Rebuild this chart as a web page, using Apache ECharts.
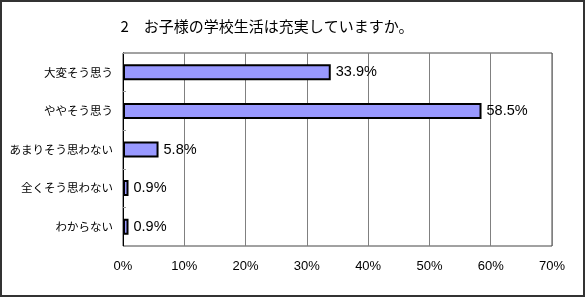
<!DOCTYPE html>
<html><head><meta charset="utf-8">
<script src="https://cdn.jsdelivr.net/npm/echarts@6/dist/echarts.min.js"></script>
<style>html,body{margin:0;padding:0;background:#fff}#c{width:586px;height:300px}</style>
</head><body><div id="c"></div>
<script>
const titleText = '2　お子様の学校生活は充実していますか。';
const categories = ['大変そう思う','ややそう思う','あまりそう思わない','全くそう思わない','わからない'];
const values = [33.9, 58.5, 5.8, 0.9, 0.9];
const xTicks = [0,10,20,30,40,50,60,70];

const chart = echarts.init(document.getElementById('c'), null, {renderer:'canvas'});
const ff = '"Liberation Sans","Noto Sans CJK JP",sans-serif';
chart.setOption({
  animation:false,
  backgroundColor:'#fff',
  title:{text:titleText,left:262,top:14,textAlign:'center',
    textStyle:{fontFamily:'"Noto Sans CJK JP",sans-serif',fontSize:15,fontWeight:'normal',color:'#000'}},
  graphic:[{type:'rect',shape:{x:1,y:1,width:583,height:295},style:{fill:null,stroke:'#333',lineWidth:2},z:100}],
  grid:{left:123,right:34,top:53,bottom:54,show:true,borderColor:'#444',borderWidth:1},
  xAxis:{type:'value',min:0,max:70,interval:10,
    axisLine:{show:false},axisTick:{show:false},
    splitLine:{show:true,lineStyle:{color:'#808080',width:1}},
    axisLabel:{formatter:v=>v+'%',fontFamily:ff,fontSize:13,color:'#000',margin:14}},
  yAxis:{type:'category',data:categories,inverse:true,
    axisLine:{show:true,lineStyle:{color:'#000',width:1}},
    axisTick:{show:true,inside:true,length:3,lineStyle:{color:'#999'}},
    axisLabel:{fontFamily:'"Noto Sans CJK JP",sans-serif',fontSize:11.5,color:'#000',margin:10}},
  series:[{type:'bar',data:values,barWidth:16,
    itemStyle:{color:'#9999ff',borderColor:'#000',borderWidth:2},
    label:{show:true,position:'right',distance:5,formatter:p=>p.value.toFixed(1)+'%',
      fontFamily:ff,fontSize:14.5,color:'#000'}}]
});
</script></body></html>
